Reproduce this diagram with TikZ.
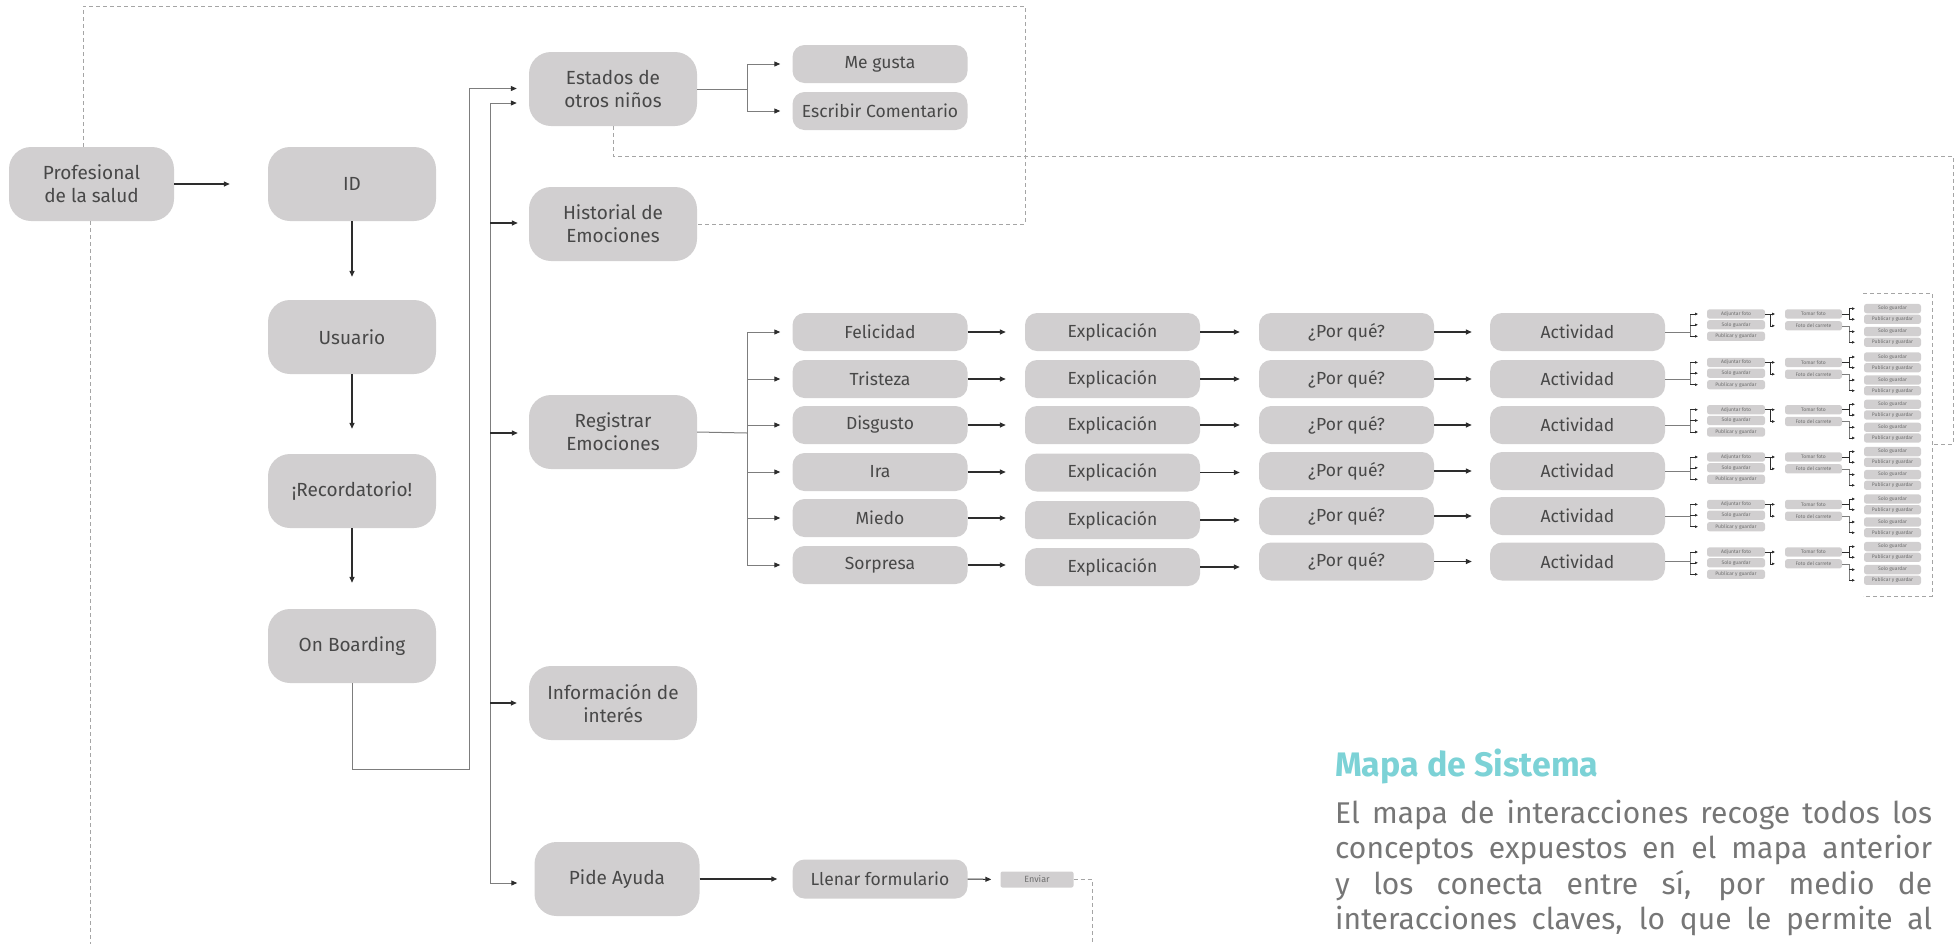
\documentclass[tikz,border=0pt]{standalone}
\usepackage{fontspec}
\setmainfont{Fira Sans}
\usetikzlibrary{arrows.meta}
\definecolor{boxfill}{RGB}{209,207,208}
\definecolor{txtcol}{RGB}{72,72,72}
\definecolor{tinytxt}{RGB}{110,110,110}
\definecolor{lncol}{RGB}{45,45,45}
\definecolor{lnlcol}{RGB}{125,125,125}
\definecolor{dashcol}{RGB}{165,165,165}
\definecolor{titlecol}{RGB}{124,210,214}
\definecolor{bodycol}{RGB}{118,118,118}
\begin{document}
\begin{tikzpicture}[x=1pt,y=-1pt,
 big/.style={fill=boxfill, rounded corners=22pt, minimum width=168pt, minimum height=74pt, align=center, text=txtcol, font=\fontsize{19}{23}\selectfont, inner sep=0pt},
 mid/.style={fill=boxfill, rounded corners=12pt, minimum width=175pt, minimum height=38pt, text=txtcol, font=\fontsize{17.5}{21}\selectfont, inner sep=0pt},
 tiny/.style={fill=boxfill, rounded corners=2.5pt, minimum width=58pt, minimum height=9.3pt, text=tinytxt, font=\fontsize{5}{6}\selectfont, inner sep=0pt},
 envbox/.style={fill=boxfill, rounded corners=2pt, minimum width=73pt, minimum height=16pt, text=tinytxt, font=\fontsize{9}{10}\selectfont, inner sep=0pt},
 arr/.style={draw=lncol, line width=1.3pt, -{Triangle[length=6pt,width=5pt]}},
 arrl/.style={draw=lnlcol, line width=1pt, -{Triangle[length=6pt,width=5pt,color=lncol]}},
 lnl/.style={draw=lnlcol, line width=1pt},
 lnthin/.style={draw=lnlcol, line width=0.6pt},
 lnthick/.style={draw=lncol, line width=1pt},
 tarr/.style={draw=lncol, line width=0.6pt, -{Triangle[length=2.6pt,width=2.4pt]}},
 dashln/.style={draw=dashcol, line width=1pt, dash pattern=on 4pt off 3pt},
 body/.style={text=bodycol, font=\fontsize{30}{34}\selectfont, inner sep=0pt, anchor=base west}
]
\useasboundingbox (0,0) rectangle (1957,943);

% left column
\node[big, minimum width=165pt] (prof) at (91.5,184) {Profesional\\de la salud};
\node[big] (id) at (352,184) {ID};
\node[big] (usu) at (352,337) {Usuario};
\node[big] (rec) at (352,491) {¡Recordatorio!};
\node[big] (onb) at (352,646) {On Boarding};

\draw[arr, shorten >=38pt] (prof.east) -- (id.west);
\draw[arr, shorten >=23pt] (id.south) -- (usu.north);
\draw[arr, shorten >=25pt] (usu.south) -- (rec.north);
\draw[arr, shorten >=26pt] (rec.south) -- (onb.north);

% second column
\node[big] (est) at (613,89) {Estados de\\otros niños};
\node[big] (his) at (613,224) {Historial de\\Emociones};
\node[big] (reg) at (613,432) {Registrar\\Emociones};
\node[big] (inf) at (613,703) {Información de\\interés};
\node[big, minimum width=165pt] (pid) at (617,879) {Pide Ayuda};

\node[mid] (meg) at (880,64) {Me gusta};
\node[mid] (esc) at (880,111) {Escribir Comentario};
\node[mid, minimum height=39pt] (lle) at (880,879) {Llenar formulario};
\node[envbox] (env) at (1037,879.5) {Enviar};

% bus from On Boarding
\coordinate (ob1) at (469,769);
\coordinate (ob2) at (469,88.5);
\draw[arrl, shorten >=12pt] (onb.south) |- (ob1) -- (ob2) -- (ob2 -| est.west);

% second bus
\coordinate (bt) at (490,103);
\coordinate (bb) at (490,883);
\draw[arrl, shorten >=12pt] (bb) -- (bt) -- (bt -| est.west);
\draw[arrl, shorten >=17pt] (bt) -- (bb) -- (bb -| pid.west);
\coordinate (bh) at (490,223);
\coordinate (br) at (490,433);
\coordinate (bi) at (490,703);
\draw[arr, shorten >=11pt] (bh) -- (bh -| his.west);
\draw[arr, shorten >=11pt] (br) -- (br -| reg.west);
\draw[arr, shorten >=12pt] (bi) -- (bi -| inf.west);

% Estados branches
\coordinate (ej) at (747,89);
\draw[lnl] (est.east) -- (ej);
\draw[arrl, shorten >=12pt] (ej) |- (meg.west);
\draw[arrl, shorten >=12pt] (ej) |- (esc.west);

% Pide ayuda chain
\draw[arr, shorten >=15pt] (pid.east) -- (lle.west);
\draw[arr, line width=1pt, shorten >=9pt] (lle.east) -- (env.west);

% Registrar fan
\coordinate (rj) at (747,433);
\draw[lnl] (reg.east) -- (rj);

\foreach \i/\e/\ye/\yx/\yp/\A in {
 1/Felicidad/332/332/332/309.3,
 2/Tristeza/379/379/379/357.7,
 3/Disgusto/425/425/425/405,
 4/Ira/472/472.5/471/452.3,
 5/Miedo/518/520/516/499.7,
 6/Sorpresa/565/567/561.5/547.3}{
  \node[mid] (emo\i) at (880,\ye) {\e};
  \node[mid] (exp\i) at (1112.5,\yx) {Explicación};
  \node[mid] (por\i) at (1346.5,\yp) {¿Por qué?};
  \node[mid] (act\i) at (1577.5,\yp) {Actividad};
  \draw[arrl, shorten >=12pt] (rj) |- (emo\i.west);
  \draw[arr, shorten >=19pt] (emo\i.east) -- (emo\i.east -| exp\i.west);
  \draw[arr, shorten >=19pt] (exp\i.east) -- (exp\i.east -| por\i.west);
  \draw[arr, shorten >=18pt] (por\i.east) -- (por\i.east -| act\i.west);
  % sub groups
  \node[tiny] (adj\i) at (1736,\A+4.7) {Adjuntar foto};
  \node[tiny] (sg\i) at (1736,\A+15.5) {Solo guardar};
  \node[tiny] (pub\i) at (1736,\A+27) {Publicar y guardar};
  \node[tiny, minimum width=57pt] (tom\i) at (1813.5,\A+4.7) {Tomar foto};
  \node[tiny, minimum width=57pt] (car\i) at (1813.5,\A+16.5) {Foto del carrete};
  \node[tiny, minimum width=57pt] (fa\i) at (1892.5,\A-0.7) {Solo guardar};
  \node[tiny, minimum width=57pt] (fb\i) at (1892.5,\A+10) {Publicar y guardar};
  \node[tiny, minimum width=57pt] (fc\i) at (1892.5,\A+22.3) {Solo guardar};
  \node[tiny, minimum width=57pt] (fd\i) at (1892.5,\A+33) {Publicar y guardar};
  \coordinate (k\i) at (1690,\A+4.7);
  \coordinate (kk\i) at (1690,\A+27);
  \draw[lnthin] (act\i.east) -- (act\i.east -| k\i);
  \draw[lnthin] (k\i) -- (kk\i);
  \draw[tarr, shorten >=9pt] (k\i) -- (adj\i.west);
  \draw[tarr, shorten >=9pt] (k\i |- sg\i.west) -- (sg\i.west);
  \draw[tarr, shorten >=9pt] (kk\i) -- (pub\i.west);
  \coordinate (m\i) at (1770,\A+4.7);
  \draw[tarr, shorten >=10pt] (adj\i.east) -- (tom\i.west);
  \draw[tarr, shorten >=10pt] (m\i) |- (car\i.west);
  \coordinate (n\i) at (1849,\A+4.7);
  \draw[lnthick] (tom\i.east) -- (n\i);
  \draw[lnthick] (n\i |- fa\i.west) -- (n\i |- fb\i.west);
  \draw[tarr, shorten >=9pt] (n\i |- fa\i.west) -- (fa\i.west);
  \draw[tarr, shorten >=9pt] (n\i |- fb\i.west) -- (fb\i.west);
  \coordinate (q\i) at (1849,\A+16.5);
  \draw[lnthin] (car\i.east) -- (q\i) -- (q\i |- fd\i.west);
  \draw[tarr, shorten >=9pt] (q\i |- fc\i.west) -- (fc\i.west);
  \draw[tarr, shorten >=9pt] (q\i |- fd\i.west) -- (fd\i.west);
}

% dashed connectors
\coordinate (d1) at (1025,6);
\draw[dashln] ([xshift=-8.5pt]prof.north) |- (d1) |- (his.east);
\coordinate (d2) at (1953,156);
\coordinate (d3) at (1953,444);
\coordinate (d4) at (1932,444);
\draw[dashln] (est.south) |- (d2) -- (d3) -- (d4);
\coordinate (bx1) at (1863,293);
\coordinate (bx2) at (1932,293);
\coordinate (bx3) at (1932,596);
\coordinate (bx4) at (1863,596);
\draw[dashln] (bx1) -- (bx2) -- (bx3) -- (bx4);
\coordinate (d5) at (90,950);
\draw[dashln] ([xshift=-1.5pt]prof.south) -- (d5);
\coordinate (d6) at (1092,879.5);
\coordinate (d7) at (1092,950);
\draw[dashln] (env.east) -- (d6) -- (d7);

% text block
\node[text=titlecol, font=\fontsize{34}{38}\selectfont\bfseries, inner sep=0pt, anchor=base west] (title) at (1335,776) {Mapa de Sistema};
\node[body] (l1) at (1335,823) {\makebox[597pt][s]{El mapa de interacciones recoge todos los}};
\node[body] (l2) at (1335,858.5) {\makebox[597pt][s]{conceptos expuestos en el mapa anterior}};
\node[body] (l3) at (1335,894) {\makebox[597pt][s]{y los conecta entre sí, por medio de}};
\node[body] (l4) at (1335,929.5) {\makebox[597pt][s]{interacciones claves, lo que le permite al}};
\end{tikzpicture}
\end{document}
